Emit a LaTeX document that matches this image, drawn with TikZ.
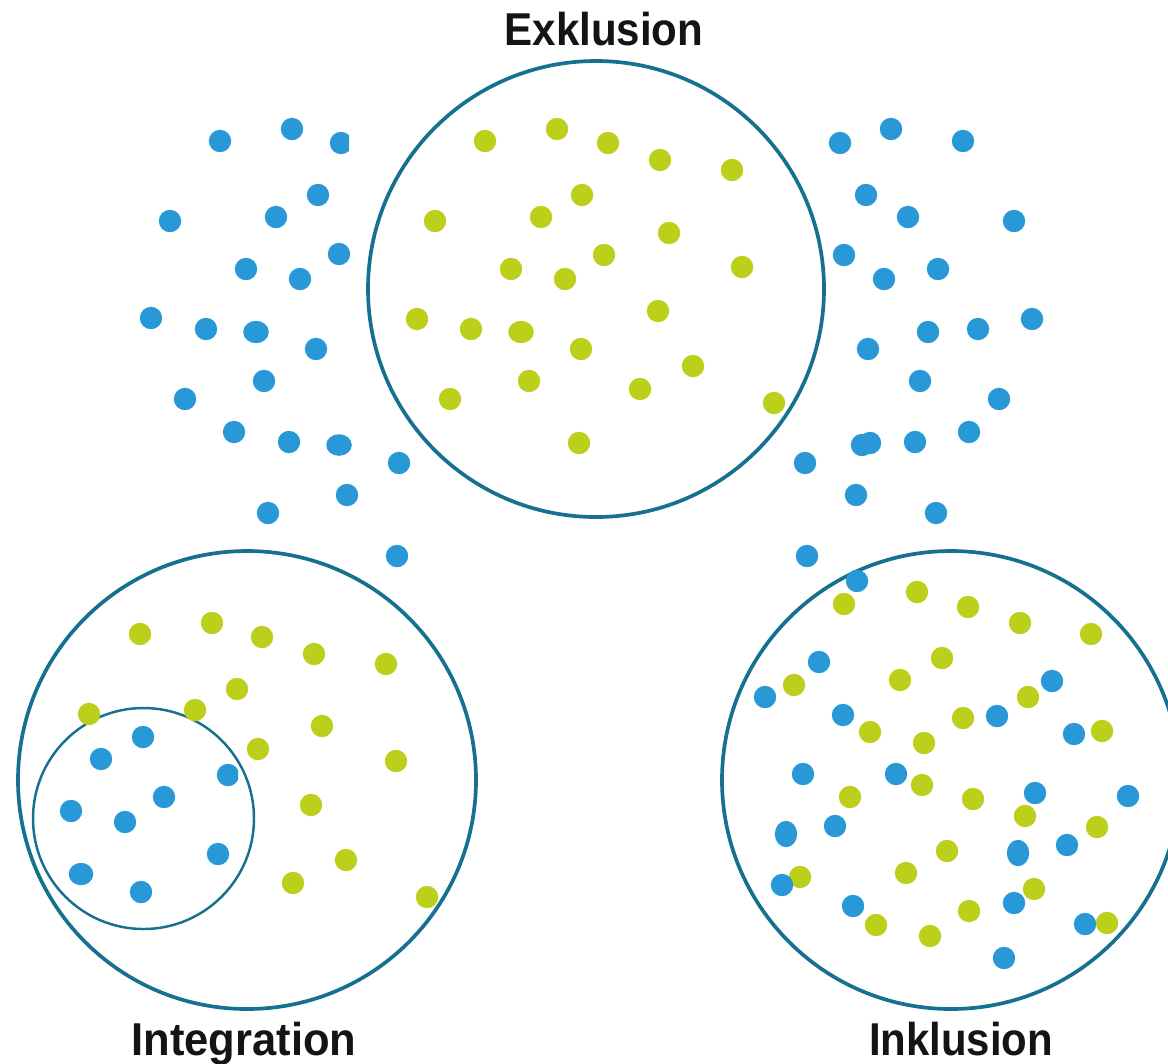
\documentclass[tikz,border=0pt]{standalone}
\usepackage{fontspec}
\setmainfont{Liberation Sans}
\begin{document}
\definecolor{ringblue}{HTML}{16708F}
\definecolor{dotblue}{HTML}{2899D6}
\definecolor{dotgreen}{HTML}{BCCF1A}
\definecolor{labelink}{HTML}{141414}
\begin{tikzpicture}[x=0.01cm,y=-0.01cm,
  ring/.style={draw=ringblue,line width=1.05pt},
  thinring/.style={draw=ringblue,line width=0.7pt},
  bdot/.style={fill=dotblue},
  gdot/.style={fill=dotgreen},
  title/.style={text=labelink,font=\fontsize{13.1pt}{15pt}\selectfont\bfseries,anchor=base,inner sep=0pt}]
\useasboundingbox (0,0) rectangle (1168,1063);
\clip (0,0) rectangle (1168,1063);

% ---- outer rings ----
\draw[ring] (596,289) circle (228);
\draw[ring] (247,780) circle (229);
\draw[ring] (951,780) circle (229);
\draw[thinring] (143.5,818.5) circle (110.5);

% ---- scattered blue dots, left of the top ring ----
\foreach \x/\y in {220/141,292/129,318/195,170/221,276/217,339/254,246/269,300/279,
  151/318,206/329,316/349,264/381,185/399,234/432,289/442,399/463,347/495,268/513,397/556}
  \fill[bdot] (\x,\y) circle (11.2);
\fill[bdot] (256,332) ellipse (12.8 and 11.2);
\fill[bdot] (339,445) ellipse (12.8 and 10.8);
\begin{scope}
  \clip (300,120) rectangle (349,170);
  \fill[bdot] (341,143) circle (11.2);
\end{scope}

% ---- scattered blue dots, right of the top ring ----
\foreach \x/\y in {840/143,891/129,963/141,866/195,908/217,1014/221,844/255,884/279,
  938/269,928/332,978/329,1032/319,868/349,920/381,999/399,915/442,969/432,
  805/463,856/495,936/513,807/556}
  \fill[bdot] (\x,\y) circle (11.2);
\fill[bdot] (862,445) circle (11.2);
\fill[bdot] (870,443) circle (11.2);

% ---- Exklusion: green dots inside the top ring ----
\foreach \x/\y in {485/141,557/129,608/143,660/160,732/170,582/195,435/221,541/217,
  669/233,604/255,511/269,565/279,742/267,417/319,471/329,658/311,581/349,
  693/366,529/381,640/389,450/399,774/403,579/443}
  \fill[gdot] (\x,\y) circle (11.2);
\fill[gdot] (521,332) ellipse (12.8 and 11.2);

% ---- Integration: green dots, blue dots gathered in the inner ring ----
\foreach \x/\y in {140/634,212/623,262/637,314/654,386/664,237/689,89/714,195/710,
  322/726,258/749,396/761,311/805,346/860,293/883,427/897}
  \fill[gdot] (\x,\y) circle (11.2);
\foreach \x/\y in {143/737,101/759,164/797,71/811,125/822,218/854,141/892}
  \fill[bdot] (\x,\y) circle (11.2);
\fill[bdot] (81,874) ellipse (12.3 and 11.2);
\begin{scope}
  \clip (200,750) rectangle (238,800);
  \fill[bdot] (228,775) circle (11.2);
\end{scope}

% ---- Inklusion: both colours mixed inside the right ring ----
\foreach \x/\y in {844/604,917/592,968/607,1020/623,1091/634,942/658,794/685,900/680,
  1028/697,963/718,870/732,924/743,1102/731,922/785,850/797,973/799,1025/816,
  1097/827,947/851,906/873,800/877,1034/889,969/911,876/925,930/936,1107/923}
  \fill[gdot] (\x,\y) circle (11.2);
\foreach \x/\y in {857/581,819/662,765/697,1052/681,843/715,997/716,1074/734,803/774,
  896/774,1035/793,1128/796,835/826,1067/845,782/885,853/906,1014/903,1085/924,1004/958}
  \fill[bdot] (\x,\y) circle (11.2);
\fill[bdot] (786,834) ellipse (11.2 and 13.2);
\fill[bdot] (1018,853) ellipse (11.2 and 13.2);

% ---- titles ----
\node[title] (exkl) at (604,45) {\scalebox{0.913}[1]{Exklusion}};
\node[title] (integ) at (244,1055) {\scalebox{0.945}[1]{Integration}};
\node[title] (inkl) at (961,1055) {\scalebox{0.91}[1]{Inklusion}};
\end{tikzpicture}
\end{document}
